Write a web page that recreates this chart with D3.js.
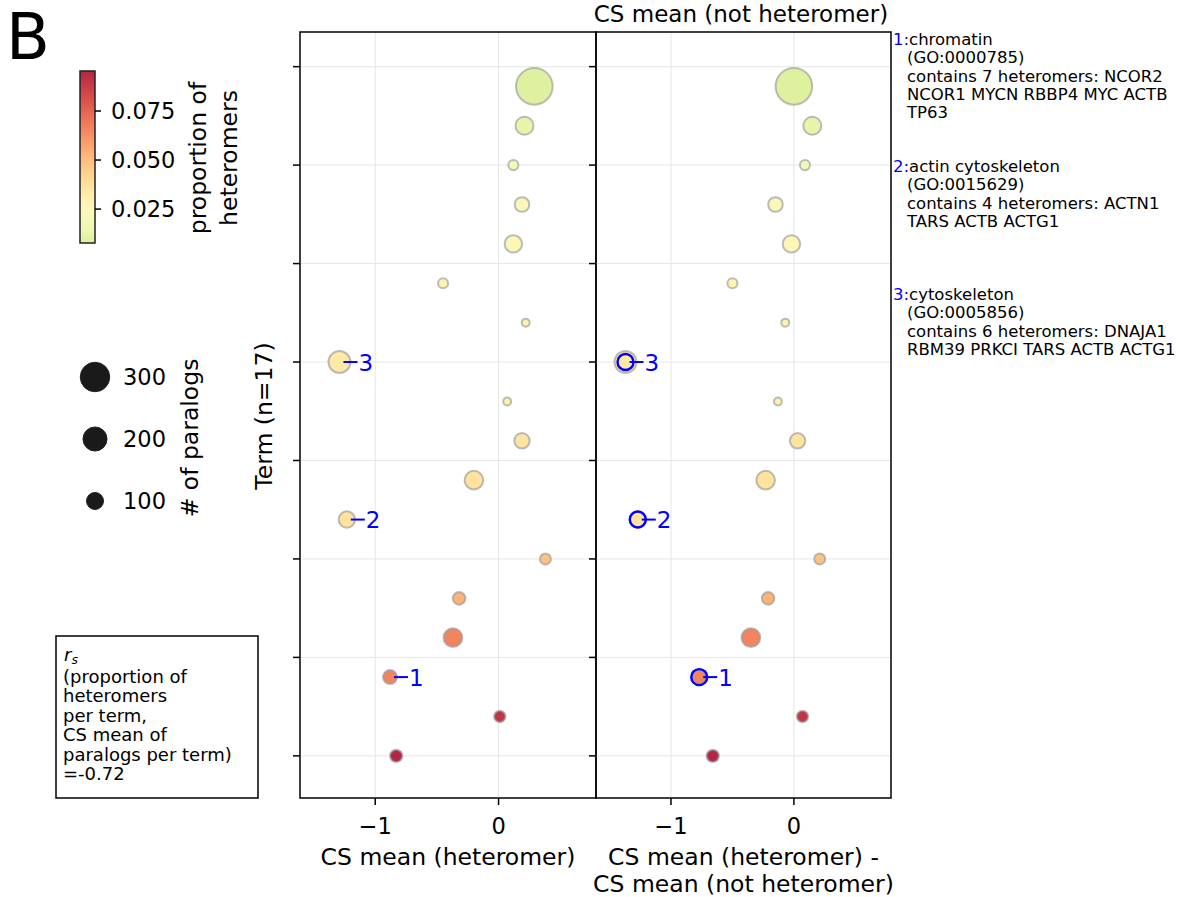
<!DOCTYPE html>
<html>
<head>
<meta charset="utf-8">
<script src="https://cdn.jsdelivr.net/npm/d3@7"></script>
<style>
  html, body { margin: 0; padding: 0; background: #fff; }
  svg { display: block; font-family: "DejaVu Sans", sans-serif; }
</style>
</head>
<body>
<svg id="chart" width="1181" height="897"></svg>
<script>
// Terms listed top to bottom
const csMeanHeteromer = [0.29, 0.21, 0.12, 0.19, 0.12, -0.45, 0.22, -1.29, 0.07, 0.19, -0.20, -1.23, 0.38, -0.32, -0.37, -0.88, 0.01, -0.83];
const csMeanDiff      = [0.00, 0.15, 0.09, -0.15, -0.02, -0.50, -0.07, -1.37, -0.13, 0.03, -0.23, -1.27, 0.21, -0.21, -0.35, -0.77, 0.07, -0.66];
const paralogCounts   = [463, 112, 35, 74, 105, 35, 22, 167, 22, 82, 120, 93, 42, 55, 122, 68, 45, 53];
const heteromerShare  = [0.0077, 0.012, 0.018, 0.022, 0.024, 0.028, 0.029, 0.034, 0.030, 0.036, 0.037, 0.037, 0.048, 0.053, 0.066, 0.066, 0.090, 0.0954];

// Highlighted terms: row index (top to bottom) and label number
const highlightRows   = [15, 11, 7];
const highlightLabels = ["1", "2", "3"];

const xTicks = [-1, 0];
const yTicks = [0, 2.5, 5, 7.5, 10, 12.5, 15, 17.5];
const colorTicks = [0.025, 0.050, 0.075];
const sizeLegendValues = [300, 200, 100];

const annotationBlocks = [
  { num: "1:", lines: ["chromatin", "(GO:0000785)", "contains 7 heteromers: NCOR2", "NCOR1 MYCN RBBP4 MYC ACTB", "TP63"] },
  { num: "2:", lines: ["actin cytoskeleton", "(GO:0015629)", "contains 4 heteromers: ACTN1", "TARS ACTB ACTG1"] },
  { num: "3:", lines: ["cytoskeleton", "(GO:0005856)", "contains 6 heteromers: DNAJA1", "RBM39 PRKCI TARS ACTB ACTG1"] }
];

const statLines = ["(proportion of", "heteromers", "per term,", "CS mean of", "paralogs per term)", "=-0.72"];

// ---------------------------------------------------------------
const svg = d3.select("#chart");
const nTerms = csMeanHeteromer.length;
const rows = d3.range(nTerms).map(i => ({
  i,
  pos: nTerms - 1 - i,
  het: csMeanHeteromer[i],
  diff: csMeanDiff[i],
  n: paralogCounts[i],
  p: heteromerShare[i]
}));

const plotTop = 32, plotBottom = 798;
const panels = [
  { x0: 300, x1: 596, key: "het" },
  { x0: 596, x1: 891, key: "diff" }
];
const xDomain = [-1.61, 0.79];
const y = d3.scaleLinear().domain([-1.07, 18.38]).range([plotBottom, plotTop]);
const size = d3.scaleSqrt().domain([0, 400]).range([0, 17]);
const pMin = 0.0077, pMax = 0.0954;
const color = v => d3.interpolateRdYlGn(0.6 * (1 - (v - pMin) / (pMax - pMin)));
const blue = "#0000ff";
const labelSize = 23.5, tickSize = 22.5;

panels.forEach((pn, k) => {
  const x = d3.scaleLinear().domain(xDomain).range([pn.x0, pn.x1]);
  const g = svg.append("g");

  // grid
  g.selectAll("line.gx").data(xTicks).join("line")
    .attr("x1", d => x(d)).attr("x2", d => x(d))
    .attr("y1", plotTop).attr("y2", plotBottom)
    .attr("stroke", "#e6e6e6").attr("stroke-width", 1);
  g.selectAll("line.gy").data(yTicks).join("line")
    .attr("x1", pn.x0).attr("x2", pn.x1)
    .attr("y1", d => y(d)).attr("y2", d => y(d))
    .attr("stroke", "#e6e6e6").attr("stroke-width", 1);

  // points
  g.selectAll("circle.pt").data(rows).join("circle")
    .attr("cx", d => x(d[pn.key]))
    .attr("cy", d => y(d.pos))
    .attr("r", d => size(d.n))
    .attr("fill", d => color(d.p))
    .attr("fill-opacity", 0.85)
    .attr("stroke", "#999")
    .attr("stroke-opacity", 0.65)
    .attr("stroke-width", 2);

  // highlighted terms
  highlightRows.forEach((ri, j) => {
    const d = rows[ri];
    const cx = x(d[pn.key]), cy = y(d.pos);
    if (k === 1) {
      g.append("circle").attr("cx", cx).attr("cy", cy).attr("r", 8)
        .attr("fill", "none").attr("stroke", blue).attr("stroke-width", 2.4);
    }
    g.append("line").attr("x1", cx + 4).attr("x2", cx + 18)
      .attr("y1", cy).attr("y2", cy)
      .attr("stroke", blue).attr("stroke-width", 2);
    g.append("text").attr("x", cx + 19).attr("y", cy + 8.5)
      .attr("font-size", 23).attr("fill", blue)
      .text(highlightLabels[j]);
  });

  // frame
  g.append("rect").attr("x", pn.x0).attr("y", plotTop)
    .attr("width", pn.x1 - pn.x0).attr("height", plotBottom - plotTop)
    .attr("fill", "none").attr("stroke", "#000").attr("stroke-width", 1.5);

  // y ticks (no labels)
  g.selectAll("line.ty").data(yTicks).join("line")
    .attr("x1", pn.x0 - 7).attr("x2", pn.x0)
    .attr("y1", d => y(d)).attr("y2", d => y(d))
    .attr("stroke", "#000").attr("stroke-width", 1.5);

  // x axis
  g.selectAll("line.tx").data(xTicks).join("line")
    .attr("x1", d => x(d)).attr("x2", d => x(d))
    .attr("y1", plotBottom).attr("y2", plotBottom + 7)
    .attr("stroke", "#000").attr("stroke-width", 1.5);
  g.selectAll("text.tx").data(xTicks).join("text")
    .attr("x", d => x(d)).attr("y", 834)
    .attr("text-anchor", "middle").attr("font-size", tickSize)
    .text(d => d < 0 ? "\u2212" + Math.abs(d) : String(d));
});

// x-axis titles
svg.append("text").attr("x", 448).attr("y", 865).attr("text-anchor", "middle")
  .attr("font-size", labelSize).text("CS mean (heteromer)");
svg.append("text").attr("x", 743.5).attr("y", 865).attr("text-anchor", "middle")
  .attr("font-size", labelSize).text("CS mean (heteromer) -");
svg.append("text").attr("x", 743.5).attr("y", 892).attr("text-anchor", "middle")
  .attr("font-size", labelSize).text("CS mean (not heteromer)");
svg.append("text").attr("x", 741).attr("y", 22).attr("text-anchor", "middle")
  .attr("font-size", 23).text("CS mean (not heteromer)");

// y-axis title
svg.append("text").attr("transform", "translate(271.5,416) rotate(-90)")
  .attr("text-anchor", "middle").attr("font-size", labelSize).text("Term (n=17)");

// panel letter
svg.append("text").attr("x", 6).attr("y", 59).attr("font-size", 64).text("B");

// colour bar
const cbX = 80, cbW = 15, cbTop = 71, cbBot = 243;
const cbScale = d3.scaleLinear().domain([pMin, pMax]).range([cbBot, cbTop]);
const defs = svg.append("defs");
const grad = defs.append("linearGradient").attr("id", "cbgrad")
  .attr("x1", 0).attr("y1", 1).attr("x2", 0).attr("y2", 0);
d3.range(0, 1.0001, 0.05).forEach(t => {
  grad.append("stop").attr("offset", t)
    .attr("stop-color", color(pMin + t * (pMax - pMin)))
    .attr("stop-opacity", 0.85);
});
svg.append("rect").attr("x", cbX).attr("y", cbTop).attr("width", cbW).attr("height", cbBot - cbTop)
  .attr("fill", "url(#cbgrad)").attr("stroke", "#222").attr("stroke-width", 1.5);
svg.selectAll("line.cbt").data(colorTicks).join("line")
  .attr("x1", cbX + cbW).attr("x2", cbX + cbW + 6)
  .attr("y1", d => cbScale(d)).attr("y2", d => cbScale(d))
  .attr("stroke", "#000").attr("stroke-width", 1.5);
svg.selectAll("text.cbt").data(colorTicks).join("text")
  .attr("x", 111).attr("y", d => cbScale(d) + 8)
  .attr("font-size", tickSize).text(d => d.toFixed(3));
svg.append("text").attr("transform", "translate(205.5,158) rotate(-90)")
  .attr("text-anchor", "middle").attr("font-size", labelSize).text("proportion of");
svg.append("text").attr("transform", "translate(236.5,158) rotate(-90)")
  .attr("text-anchor", "middle").attr("font-size", labelSize).text("heteromers");

// size legend
const legY = d3.scalePoint().domain(sizeLegendValues).range([377, 501]);
svg.selectAll("circle.leg").data(sizeLegendValues).join("circle")
  .attr("cx", 95).attr("cy", d => legY(d)).attr("r", d => size(d))
  .attr("fill", "#1a1a1a").attr("stroke", "#222").attr("stroke-width", 1);
svg.selectAll("text.leg").data(sizeLegendValues).join("text")
  .attr("x", 123).attr("y", d => legY(d) + 8)
  .attr("font-size", tickSize).text(d => d);
svg.append("text").attr("transform", "translate(198,438) rotate(-90)")
  .attr("text-anchor", "middle").attr("font-size", labelSize).text("# of paralogs");

// correlation box
svg.append("rect").attr("x", 56).attr("y", 636).attr("width", 202).attr("height", 162)
  .attr("fill", "#fff").attr("stroke", "#000").attr("stroke-width", 1.5);
const rs = svg.append("text").attr("x", 64).attr("y", 661).attr("font-size", 18);
rs.append("tspan").attr("font-style", "italic").text("r");
rs.append("tspan").attr("font-style", "italic").attr("font-size", 12.5).attr("dy", 3).text("s");
svg.selectAll("text.stat").data(statLines).join("text")
  .attr("x", 63).attr("y", (d, i) => 683 + i * 19.4)
  .attr("font-size", 18).text(d => d);

// term annotations
const blockTops = [45, 172, 300];
annotationBlocks.forEach((b, bi) => {
  b.lines.forEach((ln, li) => {
    const t = svg.append("text").attr("y", blockTops[bi] + li * 18.3).attr("font-size", 16.5);
    if (li === 0) {
      t.attr("x", 893);
      t.append("tspan").attr("fill", blue).text(b.num);
      t.append("tspan").attr("fill", "#000").text(ln);
    } else {
      t.attr("x", 907).text(ln);
    }
  });
});
</script>
</body>
</html>
